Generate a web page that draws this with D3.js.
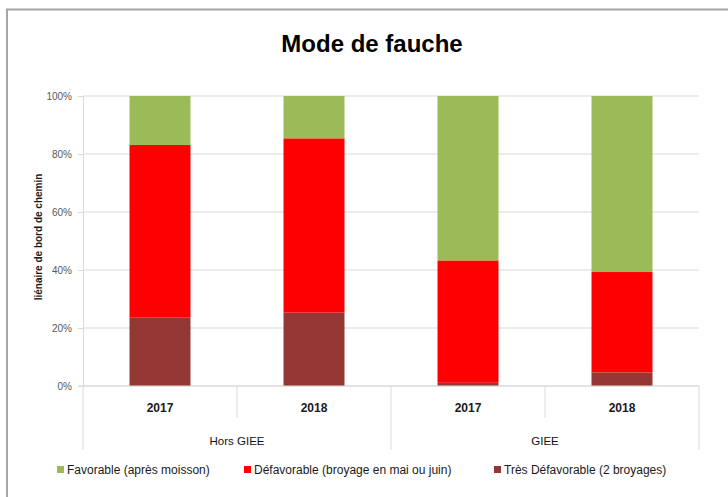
<!DOCTYPE html>
<html>
<head>
<meta charset="utf-8">
<script src="https://cdn.jsdelivr.net/npm/d3@7"></script>
<style>
  body { margin: 0; background: #fff; }
  text { font-family: "Liberation Sans", Arial, sans-serif; }
</style>
</head>
<body>
<div id="chart"></div>
<script>
// data (percent of each bar)
var years = ["2017", "2018", "2017", "2018"];
var groups = ["Hors GIEE", "GIEE"];
var barGroups = ["Hors GIEE", "Hors GIEE", "GIEE", "GIEE"];
var tresDefavorable = [23.7, 25.3, 1.1, 4.7];
var defavorable = [59.4, 60.1, 42.2, 34.6];
var favorable = [16.9, 14.6, 56.7, 60.7];
var yTicks = [0, 20, 40, 60, 80, 100];

var seriesKeys = ["tres", "def", "fav"];
var colors = { fav: "#9BBB59", def: "#FF0000", tres: "#953735" };
var legendOrder = [
  { key: "fav", label: "Favorable (après moisson)", x: 57 },
  { key: "def", label: "Défavorable (broyage en mai ou juin)", x: 244 },
  { key: "tres", label: "Très Défavorable (2 broyages)", x: 494 }
];

var rows = years.map(function(y, i) {
  return { id: i, year: y, group: barGroups[i], tres: tresDefavorable[i], def: defavorable[i], fav: favorable[i] };
});

var svgWidth = 728;
var svgHeight = 497;
var margin = { top: 96, right: 29, bottom: 111, left: 83 };
var width = svgWidth - margin.left - margin.right;
var height = svgHeight - margin.top - margin.bottom;

var svg = d3.select("#chart")
  .append("svg")
  .attr("width", svgWidth)
  .attr("height", svgHeight);

// outer chart frame (left and top edges show)
svg.append("path")
  .attr("d", "M7,497 L7,9.5 L728,9.5")
  .attr("fill", "none")
  .attr("stroke", "#a6a6a6")
  .attr("stroke-width", 2);

svg.append("text")
  .attr("x", 372)
  .attr("y", 52)
  .attr("text-anchor", "middle")
  .attr("font-size", 24)
  .attr("font-weight", "bold")
  .attr("fill", "#000")
  .text("Mode de fauche");

var chartGroup = svg.append("g")
  .attr("transform", `translate(${margin.left}, ${margin.top})`);

var xScale = d3.scaleBand()
  .domain(rows.map(d => d.id))
  .range([0, width])
  .paddingInner(0.604)
  .paddingOuter(0.302);

var yScale = d3.scaleLinear()
  .domain([0, 100])
  .range([height, 0]);

// gridlines
chartGroup.append("g")
  .selectAll("line")
  .data(yTicks)
  .enter()
  .append("line")
  .attr("x1", 0)
  .attr("x2", width)
  .attr("y1", d => yScale(d))
  .attr("y2", d => yScale(d))
  .attr("stroke", "#d9d9d9")
  .attr("stroke-width", 1);

var yAxis = d3.axisLeft(yScale)
  .tickValues(yTicks)
  .tickFormat(d => d + "%")
  .tickSize(5)
  .tickPadding(6);

var yAxisG = chartGroup.append("g").call(yAxis);
yAxisG.select(".domain").attr("stroke", "#d9d9d9");
yAxisG.selectAll(".tick line").attr("stroke", "#d9d9d9");
yAxisG.selectAll(".tick text")
  .attr("fill", "#595959")
  .attr("font-size", 10)
  .style("font-family", "\"Liberation Sans\", Arial, sans-serif");

// stacked bars
var stack = d3.stack().keys(seriesKeys);
var stacked = stack(rows);

chartGroup.selectAll(".serie")
  .data(stacked)
  .enter()
  .append("g")
  .attr("fill", d => colors[d.key])
  .selectAll("rect")
  .data(d => d)
  .enter()
  .append("rect")
  .attr("x", d => xScale(d.data.id))
  .attr("width", xScale.bandwidth())
  .attr("y", d => yScale(d[1]))
  .attr("height", d => yScale(d[0]) - yScale(d[1]));

// category axis: baseline and dividers
var step = xScale.step();
chartGroup.append("line")
  .attr("x1", -5)
  .attr("x2", width)
  .attr("y1", height)
  .attr("y2", height)
  .attr("stroke", "#d9d9d9");

var dividers = d3.range(rows.length + 1);
chartGroup.append("g")
  .selectAll("line")
  .data(dividers)
  .enter()
  .append("line")
  .attr("x1", i => i * step)
  .attr("x2", i => i * step)
  .attr("y1", height)
  .attr("y2", i => (i % 2 === 0) ? height + 64 : height + 32)
  .attr("stroke", "#d9d9d9");

chartGroup.append("g")
  .selectAll("text")
  .data(rows)
  .enter()
  .append("text")
  .attr("x", d => xScale(d.id) + xScale.bandwidth() / 2)
  .attr("y", height + 26)
  .attr("text-anchor", "middle")
  .attr("font-size", 12)
  .attr("font-weight", "bold")
  .attr("fill", "#1a1a1a")
  .text(d => d.year);

chartGroup.append("g")
  .selectAll("text")
  .data(groups)
  .enter()
  .append("text")
  .attr("x", (d, i) => (i * 2 + 1) * step)
  .attr("y", height + 59)
  .attr("text-anchor", "middle")
  .attr("font-size", 11.5)
  .attr("fill", "#111")
  .text(d => d);

// y axis title
chartGroup.append("text")
  .attr("transform", "rotate(-90)")
  .attr("x", -141)
  .attr("y", -41)
  .attr("text-anchor", "middle")
  .attr("font-size", 10)
  .attr("font-weight", "bold")
  .attr("fill", "#1a1a1a")
  .text("liénaire de bord de chemin");

// legend
var legend = svg.append("g")
  .selectAll("g")
  .data(legendOrder)
  .enter()
  .append("g")
  .attr("transform", d => `translate(${d.x}, 470)`);

legend.append("rect")
  .attr("x", 0)
  .attr("y", -4)
  .attr("width", 7)
  .attr("height", 7)
  .attr("fill", d => colors[d.key]);

legend.append("text")
  .attr("x", 10)
  .attr("y", 4)
  .attr("font-size", 12)
  .attr("fill", "#1a1a1a")
  .text(d => d.label);
</script>
</body>
</html>
